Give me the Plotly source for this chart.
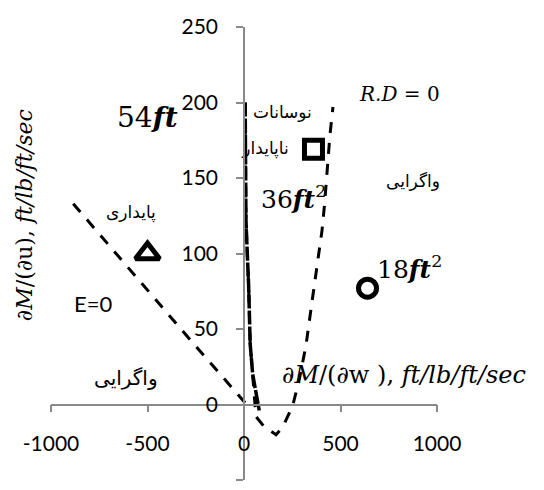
import plotly.graph_objects as go

# Stability boundary curves (x: dM/dw, y: dM/du)
e0_x = [-885, -650, -300, 0, 20]
e0_y = [133, 98, 46, 2, -2]

rd_x = [6, 8, 10, 17, 24, 32, 45, 55, 62, 100, 131, 166, 200, 226, 252, 287, 321, 360, 387, 404, 417, 428, 435, 445, 461]
rd_y = [200, 160, 123, 100, 79, 40, 20, 5, -8, -14, -17, -20, -15, -8, -1, 17, 39, 75, 101, 115, 132, 150, 163, 178, 197]

osc_x = [6, 8, 10, 17, 24, 32, 45, 62, 79]
osc_y = [200, 160, 123, 100, 79, 40, 20, 8, -4]

# Operating points for the three blade areas
pt18_x, pt18_y = [640], [77]
pt36_x, pt36_y = [360], [169]
pt54_x, pt54_y = [-500], [100]

x_ticks = [-1000, -500, 0, 500, 1000]
x_tick_text = ["-1000", "-500", "0", "500", "1000"]
y_ticks = [-50, 0, 50, 100, 150, 200, 250]
y_tick_text = ["-50", "0", "50", "100", "150", "200", "250"]

AXIS_GREY = "#898989"
SERIF = "DejaVu Serif"
PERSIAN = "DejaVu Sans"

fig = go.Figure()

fig.add_trace(go.Scatter(x=e0_x, y=e0_y, mode="lines",
                         line=dict(color="black", width=3, dash="11px,10px")))
fig.add_trace(go.Scatter(x=osc_x, y=osc_y, mode="lines",
                         line=dict(color="black", width=3.5, dash="14px,2px")))
fig.add_trace(go.Scatter(x=rd_x, y=rd_y, mode="lines",
                         line=dict(color="black", width=3, dash="11px,10px")))

# label sitting under the square marker
fig.add_trace(go.Scatter(x=[232], y=[169], mode="text", text=["ناپایدار"],
                         textposition="middle left",
                         textfont=dict(family=PERSIAN, size=17, color="black")))

fig.add_trace(go.Scatter(x=pt54_x, y=pt54_y, mode="markers",
                         marker=dict(symbol="triangle-up", size=21, color="white",
                                     line=dict(color="black", width=5))))
fig.add_trace(go.Scatter(x=pt36_x, y=pt36_y, mode="markers",
                         marker=dict(symbol="square", size=18, color="white",
                                     line=dict(color="black", width=5))))
fig.add_trace(go.Scatter(x=pt18_x, y=pt18_y, mode="markers",
                         marker=dict(symbol="circle", size=18, color="white",
                                     line=dict(color="black", width=5))))

def note(x, y, text, family, size, ref="", **kw):
    fig.add_annotation(x=x, y=y, xref=ref or "x", yref=ref or "y", text=text,
                       showarrow=False,
                       font=dict(family=family, size=size, color="black"), **kw)

note(-500, 190, "54<b><i>ft</i></b>", SERIF, 28)
note(254, 137, "36<b><i>ft</i></b><sup>2</sup>", SERIF, 25)
note(855, 91, "18<b><i>ft</i></b><sup>2</sup>", SERIF, 25)
note(808, 205.5, "<i>R.D</i> = 0", SERIF, 20)
note(202, 193.5, "نوسانات", PERSIAN, 17)
note(876, 148, "واگرایی", PERSIAN, 17)
note(-585, 127, "پایداری", PERSIAN, 17)
note(-611, 17.6, "واگرایی", PERSIAN, 20)
note(-782, 67, "E=0", "Lato", 22)
note(187, 19.6, "<i>∂M</i>/(∂w ), <i>ft/lb/ft/sec</i>", SERIF, 24, xanchor="left")
note(-0.067, 0.585, "<i>∂M</i>/(∂u), <i>ft/lb/ft/sec</i>", SERIF, 22, ref="paper",
     textangle=-90, xanchor="center", yanchor="middle")

axis_common = dict(showgrid=False, zeroline=False, showline=True, linecolor=AXIS_GREY,
                   linewidth=1.5, ticks="outside", ticklen=7, tickcolor=AXIS_GREY,
                   tickwidth=1.5, tickfont=dict(family="Lato", size=21, color="black"),
                   anchor="free", automargin=False, ticklabelstandoff=14)

fig.update_layout(
    width=544, height=490,
    margin=dict(l=51, r=107, t=27, b=10),
    paper_bgcolor="white", plot_bgcolor="white",
    showlegend=False,
    xaxis=dict(range=[-1000, 1000], tickvals=x_ticks, ticktext=x_tick_text,
               position=1 / 6, **axis_common),
    yaxis=dict(range=[-50, 250], tickvals=y_ticks, ticktext=y_tick_text,
               position=0.5, **axis_common),
)

fig.write_html("out.html")
